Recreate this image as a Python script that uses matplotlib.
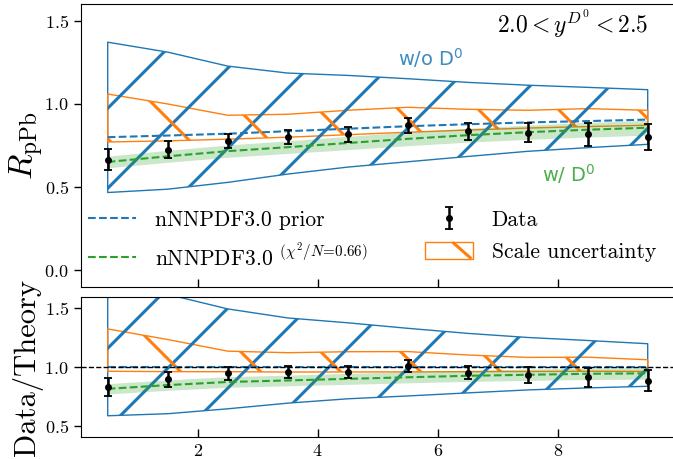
import matplotlib
matplotlib.use("Agg")
import numpy as np
import matplotlib.pyplot as plt
from matplotlib.lines import Line2D
from matplotlib.patches import Rectangle
from matplotlib.transforms import IdentityTransform
from matplotlib.legend_handler import HandlerBase

plt.rcParams.update({
    "font.family": "serif",
    "font.serif": ["cmr10"],
    "mathtext.fontset": "cm",
    "axes.formatter.use_mathtext": True,
})

# pT bin centres (GeV)
pt_bins = [0.5, 1.5, 2.5, 3.5, 4.5, 5.5, 6.5, 7.5, 8.5, 9.5]

# nNNPDF3.0 prior (w/o D0): central value and uncertainty band
prior_c = [0.800, 0.810, 0.821, 0.836, 0.851, 0.866, 0.878, 0.889, 0.897, 0.906]
prior_lo = [0.467, 0.487, 0.528, 0.578, 0.620, 0.652, 0.684, 0.715, 0.737, 0.757]
prior_hi = [1.372, 1.312, 1.228, 1.186, 1.172, 1.152, 1.130, 1.113, 1.100, 1.086]

# scale uncertainty band
scale_lo = [0.771, 0.778, 0.788, 0.800, 0.815, 0.830, 0.843, 0.855, 0.864, 0.872]
scale_hi = [1.060, 1.000, 0.932, 0.938, 0.962, 0.980, 0.968, 0.962, 0.972, 0.962]

# nNNPDF3.0 with D0 data
fit_c = [0.651, 0.685, 0.716, 0.740, 0.765, 0.790, 0.812, 0.830, 0.845, 0.857]
fit_lo = [0.616, 0.649, 0.679, 0.702, 0.725, 0.749, 0.770, 0.787, 0.801, 0.812]
fit_hi = [0.686, 0.721, 0.753, 0.778, 0.805, 0.831, 0.854, 0.873, 0.889, 0.902]

# measured R_pPb
data_y = [0.665, 0.725, 0.777, 0.801, 0.817, 0.872, 0.835, 0.828, 0.817, 0.801]
data_err = [0.063, 0.053, 0.045, 0.042, 0.043, 0.045, 0.050, 0.058, 0.070, 0.080]

C_BLUE, C_ORANGE, C_GREEN = "#1f77b4", "#ff7f0e", "#2ca02c"

x = np.array(pt_bins)
pc = np.array(prior_c)


def hatch_band(ax, coll, color, forward, phase, spacing=80.0, lw=2.2):
    """Sparse thick hatching, drawn in pixel space and clipped to a band."""
    fig = ax.figure
    W, H = fig.bbox.width, fig.bbox.height
    path = coll.get_paths()[0]
    if forward:   # '/' : x - y = c
        kmin = int(np.floor((-H - phase) / spacing)) - 1
        kmax = int(np.ceil((W - phase) / spacing)) + 1
    else:         # '\' : x + y = c
        kmin = int(np.floor((0 - phase) / spacing)) - 1
        kmax = int(np.ceil((W + H - phase) / spacing)) + 1
    for k in range(kmin, kmax + 1):
        c = phase + k * spacing
        if forward:
            xs, ys = [c, c + H], [0, H]
        else:
            xs, ys = [c, c - H], [0, H]
        ln = Line2D(xs, ys, transform=IdentityTransform(), color=color,
                    lw=lw, solid_capstyle="butt", zorder=1.5)
        ax.add_artist(ln)
        ln.set_clip_path(path, ax.transData)


class HatchBoxHandler(HandlerBase):
    def __init__(self, color, **kw):
        super().__init__(**kw)
        self.color = color

    def create_artists(self, legend, orig_handle, xdescent, ydescent,
                       width, height, fontsize, trans):
        x0, y0 = -xdescent, -ydescent
        box = Rectangle((x0, y0), width, height, facecolor="none",
                        edgecolor=self.color, lw=1.0, transform=trans)
        stroke = Line2D([x0 + 0.58 * width, x0 + 0.97 * width],
                        [y0 + height, y0], color=self.color, lw=2.2,
                        solid_capstyle="butt", transform=trans)
        return [box, stroke]


fig = plt.figure(figsize=(6.73, 4.59), dpi=100)
L, Wd = 80.7 / 673, 594 / 673
ax1 = fig.add_axes([L, (459 - 286.7) / 459, Wd, 282.4 / 459])
ax2 = fig.add_axes([L, (459 - 437.3) / 459, Wd, 140.6 / 459])

panels = [
    (ax1, np.ones_like(pc)),
    (ax2, pc),
]

for ax, norm in panels:
    p_lo = np.array(prior_lo) / norm
    p_hi = np.array(prior_hi) / norm
    s_lo = np.array(scale_lo) / norm
    s_hi = np.array(scale_hi) / norm
    f_lo = np.array(fit_lo) / norm
    f_hi = np.array(fit_hi) / norm
    f_c = np.array(fit_c) / norm
    p_c = pc / norm
    d_y = np.array(data_y) / norm
    d_e = np.array(data_err) / norm

    band_p = ax.fill_between(x, p_lo, p_hi, facecolor="none",
                             edgecolor=C_BLUE, lw=1.0, zorder=1)
    band_s = ax.fill_between(x, s_lo, s_hi, facecolor="none",
                             edgecolor=C_ORANGE, lw=1.0, zorder=1)
    ax.set_xlim(0.05, 9.95)
    hatch_band(ax, band_p, C_BLUE, True, 77.0)
    hatch_band(ax, band_s, C_ORANGE, False, 28.0)

    ax.fill_between(x, f_lo, f_hi, color=C_GREEN, alpha=0.25, lw=0, zorder=2)
    ax.plot(x, p_c, ls="--", color=C_BLUE, lw=1.5, zorder=2.5,
            label="nNNPDF3.0 prior")
    ax.plot(x, f_c, ls="--", color=C_GREEN, lw=1.5, zorder=2.5,
            label=r"nNNPDF3.0 $^{(\chi^2/N\!=\!0.66)}$")
    ax.errorbar(x, d_y, yerr=d_e, fmt="o", color="black", ms=4,
                elinewidth=1.8, capsize=3, capthick=1.3, zorder=3,
                label="Data")

    ax.tick_params(axis="x", direction="in", length=6, width=1,
                   labelsize=13, pad=4, top=False)
    ax.tick_params(axis="y", direction="out", length=5, width=1,
                   labelsize=13, right=False)
    ax.set_xticks([2, 4, 6, 8])

ax1.set_ylim(-0.1, 1.6)
ax1.set_yticks([0.0, 0.5, 1.0, 1.5])
ax1.tick_params(axis="x", labelbottom=False)
ax2.set_ylim(0.4, 1.6)
ax2.set_yticks([0.5, 1.0, 1.5])
ax2.axhline(1.0, color="black", ls="--", lw=1.0, zorder=2.6)

ax1.set_ylabel(r"$R_{\rm pPb}$", fontsize=24)
ax2.set_ylabel("Data/Theory", fontsize=22)
ax1.yaxis.set_label_coords(-0.058, 0.5)
ax2.yaxis.set_label_coords(-0.064, 0.5)

ax1.text(0.955, 0.898, r"$2.0 < y^{D^0} < 2.5$", transform=ax1.transAxes,
         ha="right", va="baseline", fontsize=17)
ax1.text(5.34, 1.232, "w/o D$^0$", color=C_BLUE, alpha=0.85,
         family="DejaVu Sans", math_fontfamily="dejavusans", fontsize=14,
         ha="left", va="baseline")
ax1.text(7.74, 0.531, "w/ D$^0$", color=C_GREEN, alpha=0.85,
         family="DejaVu Sans", math_fontfamily="dejavusans", fontsize=14,
         ha="left", va="baseline")

scale_proxy = Rectangle((0, 0), 1, 1)
handles, labels = ax1.get_legend_handles_labels()
handles.append(scale_proxy)
labels.append("Scale uncertainty")
ax1.legend(handles, labels, ncol=2, loc="upper left",
           bbox_to_anchor=(0.0123, 0.272), frameon=False, fontsize=15.5,
           borderpad=0, borderaxespad=0, handlelength=2.23,
           handleheight=0.8, handletextpad=0.88, columnspacing=2.65,
           labelspacing=0.59,
           handler_map={scale_proxy: HatchBoxHandler(C_ORANGE)})

fig.savefig("out.png", dpi=100)
